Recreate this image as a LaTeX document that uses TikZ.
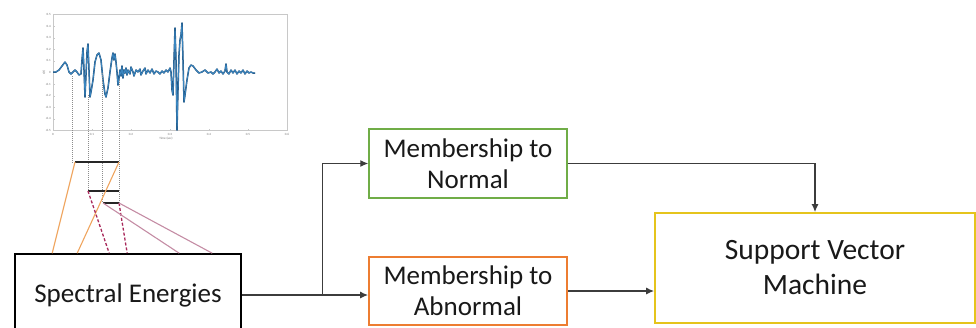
\documentclass[tikz,border=0pt]{standalone}
\usepackage{fontspec}
\setmainfont{Carlito}
\usetikzlibrary{arrows.meta,calc}

\definecolor{boxgreen}{HTML}{70AD47}
\definecolor{boxorange}{HTML}{ED7D31}
\definecolor{boxgold}{HTML}{E5C41C}
\definecolor{linkorange}{HTML}{EFA55F}
\definecolor{linkcrimson}{HTML}{A8285A}
\definecolor{linkmauve}{HTML}{C48CA4}
\definecolor{wire}{HTML}{3C3C3C}
\definecolor{sigblue}{HTML}{3A86C0}
\definecolor{sigdark}{HTML}{1F4F7A}
\definecolor{axisgray}{HTML}{C8C8C8}
\definecolor{ticktext}{HTML}{707070}

\begin{document}
\begin{tikzpicture}[x=1pt,y=-1pt,
  block/.style={draw, line width=1.6pt, fill=white, inner sep=0pt, align=center,
                text=black!90, font=\fontsize{27}{31}\selectfont},
  flow/.style={draw=wire, line width=1.2pt, -{Latex[length=8pt,width=7pt]}},
  plain/.style={draw=wire, line width=1.2pt},
  guide/.style={draw=black!45, line width=0.5pt, dash pattern=on 1pt off 1pt},
  bar/.style={draw=black!85, line width=1.5pt},
  orangelink/.style={draw=linkorange, line width=1.1pt},
  crimsonlink/.style={draw=linkcrimson, line width=1.3pt, dash pattern=on 3pt off 2pt},
  mauvelink/.style={draw=linkmauve, line width=1.1pt},
  ticklab/.style={text=ticktext, font=\fontsize{3.2}{3.5}\selectfont, inner sep=0pt}
]
\clip (0,0) rectangle (976,327);

% ---------- signal plot ----------
\draw[axisgray, line width=0.4pt] (53,14.5) rectangle (287,130.5);
\foreach \v/\lab in {0.5/0.5,0.4/0.4,0.3/0.3,0.2/0.2,0.1/0.1,0/0,-0.1/-0.1,-0.2/-0.2,-0.3/-0.3,-0.4/-0.4,-0.5/-0.5}{
  \node[ticklab, anchor=east] at (51,{72.5-\v*116}) {\lab};
  \draw[axisgray, line width=0.3pt] (53,{72.5-\v*116}) -- (55,{72.5-\v*116});
}
\foreach \t/\lab in {0/0,0.1/0.1,0.2/0.2,0.3/0.3,0.4/0.4,0.5/0.5,0.6/0.6}{
  \node[ticklab, anchor=north] at ({53+\t*390},133) {\lab};
  \draw[axisgray, line width=0.3pt] ({53+\t*390},130.5) -- ({53+\t*390},128.5);
}
\node[ticklab] at (166,139) {Time (sec)};
\node[ticklab, rotate=90] at (44,72.5) {x(t)};

\def\signal{(53,72) (56,72) (59,70) (62,66) (65,62) (67,65) (69,72) (71,74) (73,72) (75,70) (77,72) (79,75) (81,74) (82,60) (83,48) (84,70) (85,97) (86,75) (87,52) (88,44) (89,70) (90,97) (91,92) (93,80) (95,62) (97,55) (99,53) (101,60) (103,80) (105,94) (106,97) (108,88) (110,72) (112,58) (113,53) (114,60) (115,54) (116,62) (117,72) (118,85) (119,78) (120,70) (121,76) (122,66) (123,78) (124,70) (125,73) (126,68) (127,75) (128,70) (130,74) (131,67) (133,72) (134,76) (136,70) (138,72) (140,69) (141,75) (143,71) (145,68) (146,74) (148,70) (150,73) (152,69) (154,74) (156,71) (158,72) (160,74) (162,71) (164,73) (166,70) (168,72) (170,68) (171,72) (172,90) (173,95) (174,60) (175,28) (176,60) (177,130) (178,90) (179,55) (180,40) (181,35) (182,23) (183,60) (184,102) (185,95) (187,80) (189,68) (191,65) (193,66) (196,70) (199,73) (202,72) (205,70) (208,73) (211,72) (213,74) (215,72) (217,69) (219,73) (221,71) (223,74) (225,71) (226,64) (227,72) (229,74) (231,70) (233,73) (235,70) (237,74) (239,71) (241,73) (243,70) (245,74) (247,71) (249,73) (251,72) (253,73) (255,73)}
\draw[sigdark, line width=1.5pt, line join=round] plot coordinates {\signal};
\draw[sigblue, line width=0.8pt, line join=round] plot coordinates {\signal};

% ---------- window bars ----------
\coordinate (b1l) at (75,162);  \coordinate (b1r) at (119,162);
\coordinate (b2l) at (88,191);  \coordinate (b2r) at (119,191);
\coordinate (b3l) at (103,203); \coordinate (b3r) at (119,203);

\draw[guide] (72,76) -- (72,163);
\draw[guide] (88,95) -- (b2l);
\draw[guide] (102,73) -- (102,203);
\draw[guide] (119,80) -- (b3r);

\draw[bar] (b1l) -- (b1r);
\draw[bar] (b2l) -- (b2r);
\draw[bar] (b3l) -- (b3r);

% ---------- blocks ----------
\node[block, minimum width=226pt, minimum height=82pt] (spec) at (128,295) {Spectral Energies};
\node[block, draw=boxgreen, line width=1.4pt, minimum width=198pt, minimum height=69pt] (nrm) at (468,163.5) {Membership to\\Normal};
\node[block, draw=boxorange, line width=1.8pt, minimum width=198pt, minimum height=68pt] (abn) at (468,291) {Membership to\\Abnormal};
\node[block, draw=boxgold, line width=1.8pt, minimum width=320pt, minimum height=110pt,
      font=\fontsize{29.5}{35}\selectfont] (svm) at (815,268) {Support Vector\\Machine};

% ---------- links from windows to the spectral block ----------
\coordinate (s1) at ($(spec.north west)+(38,0)$);
\coordinate (s2) at ($(spec.north west)+(63,0)$);
\coordinate (s3) at ($(spec.north west)+(95,0)$);
\coordinate (s4) at ($(spec.north west)+(113,0)$);
\coordinate (s5) at ($(spec.north west)+(165,0)$);
\coordinate (s6) at ($(spec.north west)+(198,0)$);
\draw[orangelink] (b1l) -- (s1);
\draw[orangelink] (b1r) -- (s2);
\draw[crimsonlink] (b2l) -- (s3);
\draw[crimsonlink] (b3r) -- (s4);
\draw[mauvelink] (b3l) -- (s5);
\draw[mauvelink] (b3r) -- (s6);

% ---------- flow ----------
\coordinate (split) at ($(spec.east)+(81,0)$);
\draw[plain] (spec.east) -- (split);
\draw[flow] (split) -- (split -| abn.west);
\draw[flow] (split) -- (split |- nrm.west) -- (nrm.west);
\draw[flow] (abn.east) -- (abn.east -| svm.west);
\draw[flow] (nrm.east) -- (nrm.east -| svm.north) -- (svm.north);
\end{tikzpicture}
\end{document}
